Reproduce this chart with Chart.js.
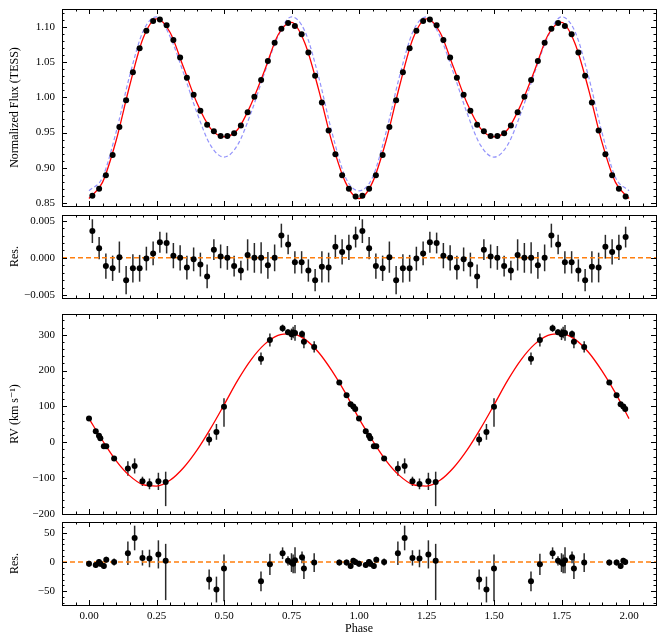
<!DOCTYPE html>
<html>
<head>
<meta charset="utf-8">
<script src="https://cdn.jsdelivr.net/npm/chart.js@4.4.1/dist/chart.umd.min.js"></script>
<style>
    body { margin: 0; background: #fff; }
    #wrap { position: relative; width: 664px; height: 644px; }
    #wrap canvas { position: absolute; left: 0; }
</style>
</head>
<body>
<div id="wrap">
    <canvas id="fluxChart" width="664" height="212" style="top:0px"></canvas>
    <canvas id="fluxResChart" width="664" height="96" style="top:208px"></canvas>
    <canvas id="rvChart" width="664" height="214" style="top:306px"></canvas>
    <canvas id="rvResChart" width="664" height="130" style="top:514px"></canvas>
</div>
<script>
// ---- data (one orbital cycle, shown twice: phase and phase + 1) ----

// TESS light curve, binned
const fluxPhase = [0.0125, 0.0375, 0.0625, 0.0875, 0.1125, 0.1375, 0.1625, 0.1875, 0.2125, 0.2375,
                   0.2625, 0.2875, 0.3125, 0.3375, 0.3625, 0.3875, 0.4125, 0.4375, 0.4625, 0.4875,
                   0.5125, 0.5375, 0.5625, 0.5875, 0.6125, 0.6375, 0.6625, 0.6875, 0.7125, 0.7375,
                   0.7625, 0.7875, 0.8125, 0.8375, 0.8625, 0.8875, 0.9125, 0.9375, 0.9625, 0.9875];
const fluxValues = [0.860, 0.870, 0.889, 0.918, 0.958, 0.996, 1.036, 1.070, 1.095, 1.109,
                    1.111, 1.103, 1.082, 1.057, 1.028, 1.004, 0.981, 0.961, 0.952, 0.945,
                    0.945, 0.949, 0.960, 0.979, 1.001, 1.025, 1.052, 1.078, 1.098, 1.106,
                    1.102, 1.090, 1.064, 1.031, 0.993, 0.953, 0.919, 0.889, 0.870, 0.859];
const fluxResiduals = [0.0036, 0.0013, -0.0011, -0.0014, 0.0001, -0.0030, -0.0014, -0.0014, -0.0001, 0.0006,
                       0.0021, 0.0020, 0.0003, 0.0000, -0.0013, -0.0002, -0.0009, -0.0025, 0.0011, 0.0002,
                       0.0000, -0.0011, -0.0017, 0.0004, 0.0000, 0.0000, -0.0010, 0.0000, 0.0030, 0.0018,
                       -0.0006, -0.0006, -0.0017, -0.0030, -0.0012, -0.0013, 0.0015, 0.0008, 0.0014, 0.0028];
const fluxResErrors = [0.0016, 0.0015, 0.0017, 0.0017, 0.0021, 0.0019, 0.0019, 0.0018, 0.0016, 0.0016,
                       0.0014, 0.0014, 0.0017, 0.0017, 0.0016, 0.0016, 0.0016, 0.0016, 0.0014, 0.0016,
                       0.0016, 0.0014, 0.0013, 0.0021, 0.0020, 0.0021, 0.0018, 0.0018, 0.0016, 0.0013,
                       0.0015, 0.0015, 0.0015, 0.0015, 0.0021, 0.0020, 0.0016, 0.0017, 0.0017, 0.0014];

// model curves, sampled every 0.05 in phase from 0 to 2
const modelPhase = Array.from({ length: 41 }, (_, i) => i * 0.05);
const fluxModel = [0.856, 0.879, 0.938, 1.016, 1.084, 1.112, 1.093, 1.043, 0.992, 0.956,
                   0.944, 0.954, 0.990, 1.038, 1.089, 1.107, 1.077, 1.012, 0.936, 0.879,
                   0.856, 0.879, 0.938, 1.016, 1.084, 1.112, 1.093, 1.043, 0.992, 0.956,
                   0.944, 0.954, 0.990, 1.038, 1.089, 1.107, 1.077, 1.012, 0.936, 0.879, 0.856];
const fluxAltModel = [0.867, 0.886, 0.950, 1.030, 1.094, 1.115, 1.087, 1.035, 0.978, 0.932,
                      0.915, 0.932, 0.978, 1.035, 1.087, 1.115, 1.094, 1.030, 0.950, 0.886,
                      0.867, 0.886, 0.950, 1.030, 1.094, 1.115, 1.087, 1.035, 0.978, 0.932,
                      0.915, 0.932, 0.978, 1.035, 1.087, 1.115, 1.094, 1.030, 0.950, 0.886, 0.867];
const rvModel = [66, 5, -51, -93, -118, -122, -106, -71, -22, 38,
                 104, 172, 230, 273, 298, 303, 287, 251, 199, 137,
                 66, 5, -51, -93, -118, -122, -106, -71, -22, 38,
                 104, 172, 230, 273, 298, 303, 287, 251, 199, 137, 66];

// radial velocities (km/s)
const rvPhase = [0.000, 0.025, 0.037, 0.042, 0.055, 0.064, 0.093, 0.144, 0.169, 0.198,
                 0.224, 0.257, 0.284, 0.445, 0.472, 0.500, 0.637, 0.670, 0.717, 0.737,
                 0.750, 0.756, 0.763, 0.789, 0.796, 0.834, 0.927, 0.954, 0.969, 0.979, 0.986];
const rvValues = [66, 31, 18, 11, -11, -11, -45, -73, -66, -109,
                  -116, -109, -111, 8, 29, 99, 233, 285, 318, 307,
                  301, 306, 305, 302, 280, 266, 167, 131, 106, 100, 93];
const rvErrUp = [5, 5, 5, 5, 5, 5, 6, 20, 21, 13,
                 15, 24, 29, 17, 22, 24, 17, 18, 10, 8,
                 16, 16, 22, 10, 18, 16, 5, 5, 5, 5, 5];
const rvErrDown = [5, 5, 5, 5, 5, 5, 6, 20, 21, 13,
                   15, 24, 67, 17, 22, 56, 17, 18, 10, 8,
                   16, 16, 22, 10, 18, 16, 5, 5, 5, 5, 5];
const rvResiduals = [-3, -5, 0, -3, -7, 4, 0, 15, 41, 7,
                     6, 13, 2, -30, -47, -11, -33, -4, 15, 2,
                     -1, -3, 3, 8, -11, -1, -1, -1, -7, 2, 0];

// tick labels
const phaseTicks = [0, 0.25, 0.5, 0.75, 1, 1.25, 1.5, 1.75, 2];
const phaseTickLabels = ['0.00', '0.25', '0.50', '0.75', '1.00', '1.25', '1.50', '1.75', '2.00'];
const fluxTicks = [0.85, 0.90, 0.95, 1.00, 1.05, 1.10];
const fluxTickLabels = ['0.85', '0.90', '0.95', '1.00', '1.05', '1.10'];
const fluxResTicks = [-0.005, 0, 0.005];
const fluxResTickLabels = ['\u22120.005', '0.000', '0.005'];
const rvTicks = [-200, -100, 0, 100, 200, 300];
const rvTickLabels = ['\u2212200', '\u2212100', '0', '100', '200', '300'];
const rvResTicks = [-50, 0, 50];
const rvResTickLabels = ['\u221250', '0', '50'];

// ---- helpers ----
Chart.defaults.font.family = '"Liberation Serif", "Times New Roman", "DejaVu Serif", serif';
Chart.defaults.font.size = 11;
Chart.defaults.color = '#000';

function twoCycles(phase, values) {
    const pts = phase.map((p, i) => ({ x: p, y: values[i] }));
    return pts.concat(phase.map((p, i) => ({ x: p + 1, y: values[i] })));
}

function curve(values) {
    return modelPhase.map((p, i) => ({ x: p, y: values[i] }));
}

// inward ticks on all four sides plus the frame
function frameTicks(yMinor, yMajor) {
    return {
        id: 'frameTicks',
        afterDatasetsDraw(chart) {
            const { ctx, chartArea: a } = chart;
            const xs = chart.scales.x, ys = chart.scales.y;
            ctx.save();
            ctx.strokeStyle = '#000';
            ctx.lineWidth = 1;
            ctx.beginPath();
            const xStep = 0.05, xRatio = 5;
            for (let i = Math.ceil(xs.min / xStep - 1e-6); i * xStep <= xs.max + 1e-9; i++) {
                const px = Math.round(xs.getPixelForValue(i * xStep)) + 0.5;
                const len = i % xRatio === 0 ? 5 : 2.5;
                ctx.moveTo(px, a.bottom); ctx.lineTo(px, a.bottom - len);
                ctx.moveTo(px, a.top); ctx.lineTo(px, a.top + len);
            }
            const yRatio = Math.round(yMajor / yMinor);
            for (let i = Math.ceil(ys.min / yMinor - 1e-6); i * yMinor <= ys.max + 1e-9; i++) {
                const py = Math.round(ys.getPixelForValue(i * yMinor)) + 0.5;
                const len = i % yRatio === 0 ? 5 : 2.5;
                ctx.moveTo(a.left, py); ctx.lineTo(a.left + len, py);
                ctx.moveTo(a.right, py); ctx.lineTo(a.right - len, py);
            }
            ctx.stroke();
            ctx.strokeRect(Math.round(a.left) + 0.5, Math.round(a.top) + 0.5,
                           Math.round(a.width), Math.round(a.height));
            ctx.restore();
        }
    };
}

// vertical error bars, drawn under the markers
const errorBars = {
    id: 'errorBars',
    beforeDatasetsDraw(chart) {
        const { ctx, chartArea: a } = chart;
        const xs = chart.scales.x, ys = chart.scales.y;
        ctx.save();
        ctx.beginPath();
        ctx.rect(a.left, a.top, a.width, a.height);
        ctx.clip();
        ctx.strokeStyle = '#2a2a2a';
        ctx.lineWidth = 1.5;
        chart.data.datasets.forEach(ds => {
            if (!ds.errUp) return;
            ds.data.forEach((p, i) => {
                const x = xs.getPixelForValue(p.x);
                ctx.beginPath();
                ctx.moveTo(x, ys.getPixelForValue(p.y + ds.errUp[i]));
                ctx.lineTo(x, ys.getPixelForValue(p.y - ds.errDown[i]));
                ctx.stroke();
            });
        });
        ctx.restore();
    }
};

// no extra room for half-labels at the ends of the axes
function noLabelPadding(s) {
    s.paddingTop = 0; s.paddingBottom = 0; s.paddingLeft = 0; s.paddingRight = 0;
}

function xAxis(show) {
    return {
        min: -0.1, max: 2.1,
        display: show,
        afterFit: s => { if (show) s.height = 39; noLabelPadding(s); },
        afterBuildTicks: s => { s.ticks = phaseTicks.map(v => ({ value: v })); },
        grid: { display: false, drawTicks: false },
        border: { display: false },
        ticks: { padding: 5, maxRotation: 0, autoSkip: false, callback: (v, i) => phaseTickLabels[i] },
        title: { display: true, text: 'Phase', font: { size: 12 }, padding: { top: 0, bottom: 8 } }
    };
}

function yAxis(min, max, ticks, labels, title) {
    return {
        min: min, max: max,
        afterFit: s => { s.width = 62; noLabelPadding(s); },
        afterBuildTicks: s => { s.ticks = ticks.map(v => ({ value: v })); },
        grid: { display: false, drawTicks: false },
        border: { display: false },
        ticks: { padding: 7, autoSkip: false, callback: (v, i) => labels[i] },
        title: { display: true, text: title, font: { size: 12 }, padding: { top: 8, bottom: 0 } }
    };
}

function pointSet(data, errUp, errDown) {
    return {
        data: data, errUp: errUp, errDown: errDown,
        showLine: false, pointRadius: 3, pointHoverRadius: 3,
        backgroundColor: '#000', borderColor: '#000', borderWidth: 0, order: 0
    };
}

function lineSet(data, color, width, dash, order) {
    return {
        data: data, showLine: true, pointRadius: 0, borderColor: color, borderWidth: width,
        borderDash: dash, cubicInterpolationMode: 'monotone', fill: false, order: order
    };
}

const zeroLine = [{ x: -0.1, y: 0 }, { x: 2.1, y: 0 }];

function makeChart(id, datasets, yScale, showX, padding, yMinor, yMajor) {
    return new Chart(document.getElementById(id).getContext('2d'), {
        type: 'scatter',
        data: { datasets: datasets },
        options: {
            responsive: false,
            animation: false,
            events: [],
            layout: { padding: padding, autoPadding: false },
            scales: { x: xAxis(showX), y: yScale },
            plugins: { legend: { display: false }, tooltip: { enabled: false } }
        },
        plugins: [errorBars, frameTicks(yMinor, yMajor)]
    });
}

// ---- panels ----
const fluxErr = fluxValues.map(() => 0);

makeChart('fluxChart', [
    pointSet(twoCycles(fluxPhase, fluxValues), fluxErr.concat(fluxErr), fluxErr.concat(fluxErr)),
    lineSet(curve(fluxModel), '#ff0000', 1.3, [], 1),
    lineSet(curve(fluxAltModel), 'rgba(110,110,250,0.75)', 1.2, [4, 2.5], 2)
], yAxis(0.8453, 1.1261, fluxTicks, fluxTickLabels, 'Normalized Flux (TESS)'),
   false, { left: 0, right: 8, top: 9, bottom: 6 }, 0.01, 0.05);

makeChart('fluxResChart', [
    pointSet(twoCycles(fluxPhase, fluxResiduals), fluxResErrors.concat(fluxResErrors), fluxResErrors.concat(fluxResErrors)),
    lineSet(zeroLine, '#ff7f0e', 1.5, [5, 3], 1)
], yAxis(-0.0054, 0.00577, fluxResTicks, fluxResTickLabels, 'Res.'),
   false, { left: 0, right: 8, top: 7, bottom: 6 }, 0.001, 0.005);

makeChart('rvChart', [
    pointSet(twoCycles(rvPhase, rvValues), rvErrUp.concat(rvErrUp), rvErrDown.concat(rvErrDown)),
    lineSet(curve(rvModel), '#ff0000', 1.3, [], 1)
], yAxis(-200, 357.7, rvTicks, rvTickLabels, 'RV (km s\u207B\u00B9)'),
   false, { left: 0, right: 8, top: 8, bottom: 6 }, 20, 100);

makeChart('rvResChart', [
    pointSet(twoCycles(rvPhase, rvResiduals), rvErrUp.concat(rvErrUp), rvErrDown.concat(rvErrDown)),
    lineSet(zeroLine, '#ff7f0e', 1.5, [5, 3], 1)
], yAxis(-73.4, 68.3, rvResTicks, rvResTickLabels, 'Res.'),
   true, { left: 0, right: 8, top: 8, bottom: 0 }, 10, 50);
</script>
</body>
</html>
